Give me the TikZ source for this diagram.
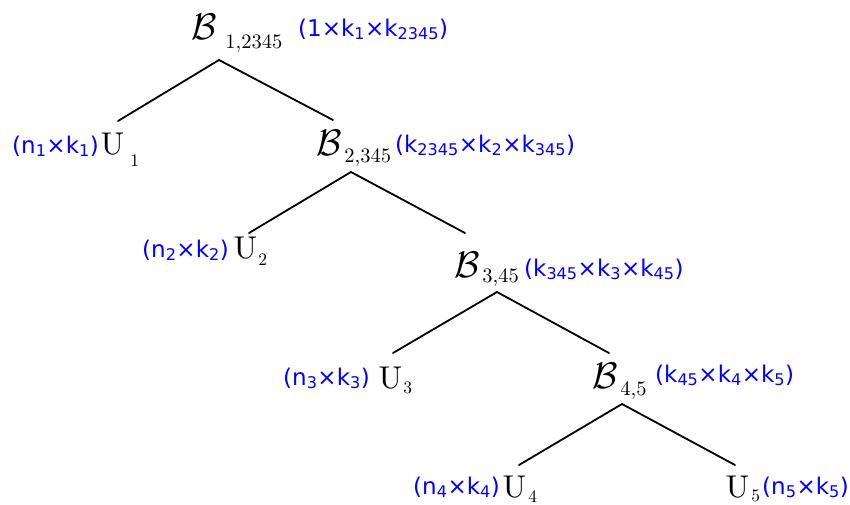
\documentclass[tikz,border=0pt]{standalone}
\usepackage{fontspec}
\newfontfamily\dvsans{DejaVu Sans}
\usetikzlibrary{calc}
\newcommand\sbs[1]{\textsubscript{#1}}
\tikzset{
  letterB/.style={inner sep=0pt, anchor=base west, scale=3.7},
  letterU/.style={inner sep=0pt, anchor=base west, scale=3.15},
  subB/.style={inner sep=0pt, anchor=base west, scale=2.05},
  subU/.style={inner sep=0pt, anchor=base west, scale=1.75},
  dims/.style={inner sep=0pt, anchor=base west, text=blue, font=\dvsans\fontsize{23}{26}\selectfont},
  branch/.style={line width=1.8pt, line cap=round}
}
\begin{document}
\begin{tikzpicture}[x=1pt,y=-1pt]
\useasboundingbox (0,0) rectangle (850,504);
% B nodes
\node[letterB] (b1) at (191,39) {$\mathcal{B}$};
\node[subB] (b1s) at (225,48) {1,2345};
\node[dims] (l1) at (298,36) {(1×k\sbs{1}×k\sbs{2345})};
\node[letterB] (b2) at (316,155) {$\mathcal{B}$};
\node[subB] (b2s) at (344,162) {2,345};
\node[dims] (l3) at (395,152) {(k\sbs{2345}×k\sbs{2}×k\sbs{345})};
\node[letterB] (b3) at (454,277) {$\mathcal{B}$};
\node[subB] (b3s) at (482,282) {3,45};
\node[dims] (l5) at (524,276) {(k\sbs{345}×k\sbs{3}×k\sbs{45})};
\node[letterB] (b4) at (592,388) {$\mathcal{B}$};
\node[subB] (b4s) at (620,395) {4,5};
\node[dims] (l7) at (655,382) {(k\sbs{45}×k\sbs{4}×k\sbs{5})};
% U nodes
\node[letterU] (u1) at (100,154) {U};
\node[subU] (u1s) at (130,166) {1};
\node[dims] (l2) at (12,153) {(n\sbs{1}×k\sbs{1})};
\node[letterU] (u2) at (233,258) {U};
\node[subU] (u2s) at (258,265) {2};
\node[dims] (l4) at (142,257) {(n\sbs{2}×k\sbs{2})};
\node[letterU] (u3) at (378,388) {U};
\node[subU] (u3s) at (403,393) {3};
\node[dims] (l6) at (283,385) {(n\sbs{3}×k\sbs{3})};
\node[letterU] (u4) at (502,497) {U};
\node[subU] (u4s) at (528,502) {4};
\node[dims] (l8) at (413,494) {(n\sbs{4}×k\sbs{4})};
\node[letterU] (u5) at (725,497) {U};
\node[subU] (u5s) at (751,501) {5};
\node[dims] (l9) at (762,494) {(n\sbs{5}×k\sbs{5})};
% connector ends tied to nodes
\coordinate (b1-bot) at ($(b1.base west)+(28,21)$);
\coordinate (u1-top) at ($(u1.base west)+(18,-33)$);
\coordinate (b2-top) at ($(b2.base west)+(17,-35)$);
\coordinate (b2-bot) at ($(b2.base west)+(35,17)$);
\coordinate (u2-top) at ($(u2.base west)+(16,-25)$);
\coordinate (b3-top) at ($(b3.base west)+(11,-44)$);
\coordinate (b3-bot) at ($(b3.base west)+(43,15)$);
\coordinate (u3-top) at ($(u3.base west)+(15,-35)$);
\coordinate (b4-top) at ($(b4.base west)+(17,-35)$);
\coordinate (b4-bot) at ($(b4.base west)+(30,16)$);
\coordinate (u4-top) at ($(u4.base west)+(17,-32)$);
\coordinate (u5-top) at ($(u5.base west)+(10,-32)$);
\draw[branch] (b1-bot) -- (u1-top);
\draw[branch] (b1-bot) -- (b2-top);
\draw[branch] (b2-bot) -- (u2-top);
\draw[branch] (b2-bot) -- (b3-top);
\draw[branch] (b3-bot) -- (u3-top);
\draw[branch] (b3-bot) -- (b4-top);
\draw[branch] (b4-bot) -- (u4-top);
\draw[branch] (b4-bot) -- (u5-top);
\end{tikzpicture}
\end{document}
